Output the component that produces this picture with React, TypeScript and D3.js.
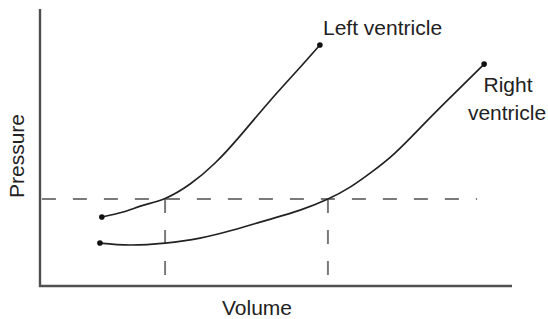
import React from 'react';
import * as d3 from 'd3';

// volume / pressure, arbitrary units
const leftVolume = [13.1, 17.6, 21.8, 26.5, 31.8, 37.1, 42.4, 48.7, 54.4, 59.3];
const leftPressure = [24.9, 26.7, 29.1, 31.6, 36.8, 44.4, 54.2, 66.8, 77.6, 87.0];

const rightVolume = [12.7, 19.1, 26.5, 33.9, 40.9, 48.1, 55.1, 61.0, 65.7, 70.3, 75.2, 80.5, 86.2, 94.1];
const rightPressure = [15.5, 14.8, 15.5, 17.3, 20.2, 23.8, 27.4, 31.4, 35.7, 41.2, 48.0, 57.0, 66.8, 80.1];

const refPressure = 31.4;
const refVolumes = [26.5, 61.0];
const refBottoms = [2.2, 0.4];
const refLineEnd = [0.4, 92.6];

const seriesLabels = ['Left ventricle', 'Right', 'ventricle'];
const axisLabels = ['Volume', 'Pressure'];

const W = 548;
const H = 319;
const FONT = 'Liberation Sans, Arial, Helvetica, sans-serif';

function App() {
  const x = d3.scaleLinear().domain([0, 100]).range([40, 512]);
  const y = d3.scaleLinear().domain([0, 100]).range([286, 9]);

  const line = d3.line<[number, number]>()
    .x(d => x(d[0]))
    .y(d => y(d[1]))
    .curve(d3.curveNatural);

  const left: [number, number][] = leftVolume.map((v, i) => [v, leftPressure[i]]);
  const right: [number, number][] = rightVolume.map((v, i) => [v, rightPressure[i]]);
  const ends = [left[0], left[left.length - 1], right[0], right[right.length - 1]];

  return (
    <svg width={W} height={H} style={{position: 'absolute', left: 0, top: 0, background: '#fff'}}>
      {/* dashed reference lines */}
      <g stroke="#7a7a7a" strokeWidth={2} strokeDasharray="14,17" fill="none">
        <line x1={x(refLineEnd[0])} x2={x(refLineEnd[1])} y1={y(refPressure)} y2={y(refPressure)}/>
        {refVolumes.map((v, i) => (
          <line key={i} x1={x(v)} x2={x(v)} y1={y(refPressure)} y2={y(refBottoms[i])}/>
        ))}
      </g>

      {/* axes */}
      <g stroke="#505050" strokeWidth={2.4} fill="none">
        <line x1={x(0)} x2={x(0)} y1={y(100)} y2={y(0) + 1}/>
        <line x1={x(0) - 1} x2={x(100)} y1={y(0)} y2={y(0)}/>
      </g>

      {/* curves */}
      <g stroke="#222" strokeWidth={1.7} fill="none">
        <path d={line(left) || ''}/>
        <path d={line(right) || ''}/>
      </g>
      {ends.map((d, i) => (
        <circle key={i} cx={x(d[0])} cy={y(d[1])} r={2.8} fill="#111"/>
      ))}

      <g fontFamily={FONT} fontSize={21} fill="#222">
        <text x={323} y={35}>{seriesLabels[0]}</text>
        <text x={508} y={92} textAnchor="middle">{seriesLabels[1]}</text>
        <text x={507} y={120} textAnchor="middle">{seriesLabels[2]}</text>
        <text x={222} y={315}>{axisLabels[0]}</text>
        <text transform="translate(24,156) rotate(-90)" textAnchor="middle">{axisLabels[1]}</text>
      </g>
    </svg>
  );
}

export default App;
